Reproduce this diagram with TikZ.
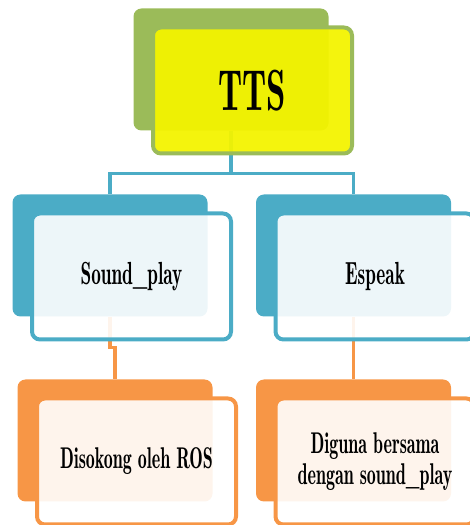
\documentclass[tikz,border=0pt]{standalone}
\usepackage{fontspec}
\setmainfont{lmromandemi10-regular.otf}[FakeStretch=0.6]
\usetikzlibrary{positioning, calc}
\definecolor{ttsgreen}{HTML}{9BBB59}
\definecolor{ttsyellow}{RGB}{243,243,0}
\definecolor{playblue}{HTML}{4BACC6}
\definecolor{rosorange}{HTML}{F79646}
\tikzset{
x=1pt, y=1pt,
back/.style={%
    rectangle,
    rounded corners=8pt,
    minimum width=195pt, minimum height=122pt,
    inner sep=0pt,
    fill=#1
},
front/.style={%
    rectangle,
    rounded corners=8pt,
    minimum width=199pt, minimum height=126pt,
    inner sep=2pt,
    line width=4pt,
    draw=#1, fill=white, fill opacity=0.9, text opacity=1,
    align=center, text=black
},
link/.style={line width=3.5pt, draw=#1},
elbow/.style={to path={-- ++(0,-#1) -| (\tikztotarget)}},
}

\begin{document}
\begin{tikzpicture}
	\useasboundingbox (0,0) rectangle (469,525);
	% back boxes
	\node[back=ttsgreen] (ttsback) at (231,455.5) {};
	\node[back=playblue] (spback) at (110,269.5) {};
	\node[back=playblue] (esback) at (353.5,269.5) {};
	\node[back=rosorange] (rosback) at (115,84.5) {};
	\node[back=rosorange] (samaback) at (353.5,84.5) {};

	% connectors
	\draw[link=playblue] (ttsback.south) to[elbow=43] (spback.north);
	\draw[link=playblue] (ttsback.south) to[elbow=43] (esback.north);
	\draw[link=rosorange] (spback.south) to[elbow=31] (rosback.north);
	\draw[link=rosorange] (esback.south) to[elbow=31] (samaback.north);

	% front boxes
	\node[front=ttsgreen, fill=ttsyellow, fill opacity=0.95, font=\fontsize{58}{60}\selectfont]
		(tts) at ($(ttsback)+(21.5,-21)$) {TTS};
	\node[front=playblue, font=\fontsize{32}{34}\selectfont]
		(sp) at ($(spback)+(21.5,-21)$) {Sound\_play};
	\node[front=playblue, font=\fontsize{32}{34}\selectfont]
		(es) at ($(esback)+(21.5,-21)$) {Espeak};
	\node[front=rosorange, font=\fontsize{30}{31}\selectfont]
		(ros) at ($(rosback)+(21.5,-21)$) {Disokong oleh ROS};
	\node[front=rosorange, font=\fontsize{30}{31}\selectfont]
		(sama) at ($(samaback)+(21.5,-21)$) {Diguna bersama\\dengan sound\_play};
\end{tikzpicture}
\end{document}
